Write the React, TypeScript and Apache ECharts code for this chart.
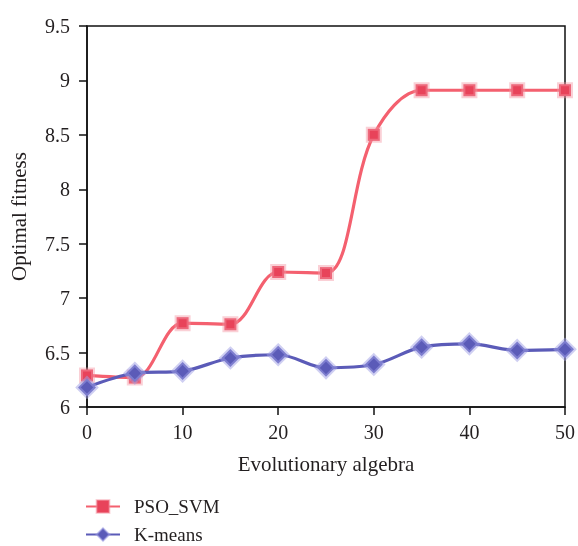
import React, { useEffect, useRef } from "react";
import * as echarts from "echarts";

const generations = [0, 5, 10, 15, 20, 25, 30, 35, 40, 45, 50];
const psoSvm = [6.29, 6.27, 6.77, 6.76, 7.24, 7.23, 8.5, 8.91, 8.91, 8.91, 8.91];
const kMeans = [6.18, 6.31, 6.33, 6.45, 6.48, 6.36, 6.39, 6.55, 6.58, 6.52, 6.53];
const seriesNames = ["PSO_SVM", "K-means"];

const FONT = "Liberation Serif";
const TXT = "#231f20";

const legendBase = {
  left: 80,
  itemWidth: 34,
  itemHeight: 16,
  textStyle: { fontFamily: FONT, fontSize: 19, color: TXT, padding: [0, 0, 0, 9] },
};

export default function App() {
  const ref = useRef<HTMLDivElement>(null);
  useEffect(() => {
    if (!ref.current) return;
    const chart = echarts.init(ref.current, null, { renderer: "svg" });
    chart.setOption({
      animation: false,
      textStyle: { fontFamily: FONT },
      grid: {
        left: 85,
        right: 11,
        top: 26,
        bottom: 139,
        show: true,
        borderColor: "#111",
        borderWidth: 1.5,
      },
      legend: [
        { ...legendBase, top: 492, data: [seriesNames[0]] },
        { ...legendBase, top: 520, data: [seriesNames[1]] },
      ],
      xAxis: {
        type: "value",
        min: 0,
        max: 50,
        interval: 10,
        name: "Evolutionary algebra",
        nameLocation: "middle",
        nameGap: 46,
        nameTextStyle: { fontFamily: FONT, fontSize: 21, color: TXT },
        axisLine: { show: true, lineStyle: { color: "#111", width: 1.5 } },
        axisTick: { show: true, length: 8, lineStyle: { color: "#111", width: 1.5 } },
        axisLabel: { fontFamily: FONT, fontSize: 20, color: TXT, margin: 15 },
        splitLine: { show: false },
      },
      yAxis: {
        type: "value",
        min: 6,
        max: 9.5,
        interval: 0.5,
        name: "Optimal fitness",
        nameLocation: "middle",
        nameGap: 58,
        nameTextStyle: { fontFamily: FONT, fontSize: 21, color: TXT },
        axisLine: { show: true, lineStyle: { color: "#111", width: 1.5 } },
        axisTick: { show: true, length: 8, lineStyle: { color: "#111", width: 1.5 } },
        axisLabel: { fontFamily: FONT, fontSize: 20, color: TXT, margin: 17 },
        splitLine: { show: false },
      },
      series: [
        {
          name: seriesNames[0],
          type: "line",
          smooth: 0.35,
          data: generations.map((g, i) => [g, psoSvm[i]]),
          symbol: "rect",
          symbolSize: 12,
          lineStyle: { color: "#f4606f", width: 3.2 },
          itemStyle: {
            color: "#e8435a",
            borderColor: "rgba(245,150,165,0.45)",
            borderWidth: 4,
          },
          z: 3,
        },
        {
          name: seriesNames[1],
          type: "line",
          smooth: 0.35,
          data: generations.map((g, i) => [g, kMeans[i]]),
          symbol: "diamond",
          symbolSize: 18,
          lineStyle: { color: "#5b5bb8", width: 3.2 },
          itemStyle: {
            color: "#5b5bb8",
            borderColor: "rgba(160,160,230,0.5)",
            borderWidth: 4,
          },
          z: 4,
        },
      ],
    });
    return () => chart.dispose();
  }, []);
  return (
    <div
      ref={ref}
      style={{ position: "fixed", left: 0, top: 0, width: 578, height: 546 }}
    />
  );
}
